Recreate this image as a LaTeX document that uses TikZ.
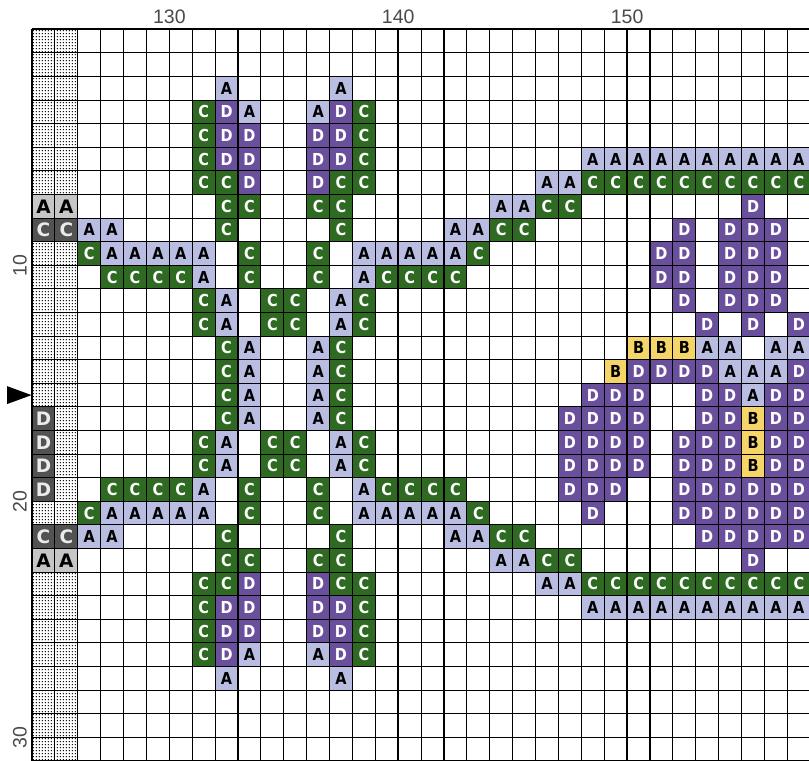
\documentclass[tikz,border=0pt]{standalone}
\usepackage{fontspec}
\setmainfont{Liberation Sans}
\newfontfamily\cellfont{DejaVu Sans}[FakeStretch=0.88]
\newfontfamily\grayfont{DejaVu Sans}
\usetikzlibrary{patterns}
\pgfdeclarepatternformonly{stipple}{\pgfpointorigin}{\pgfpoint{3.2bp}{3.2bp}}{\pgfpoint{3.2bp}{3.2bp}}{%
  \pgfpathcircle{\pgfpoint{1.6bp}{1.6bp}}{0.85bp}\pgfusepath{fill}}
\definecolor{colA}{HTML}{B9BDE2}
\definecolor{colB}{HTML}{F6D568}
\definecolor{colC}{HTML}{2E6A22}
\definecolor{colD}{HTML}{6A4F9C}
\definecolor{grayL}{HTML}{C6C6C6}
\definecolor{grayD}{HTML}{525252}
\definecolor{labelgray}{HTML}{4A4A4A}
\tikzset{
  cellbase/.style={minimum width=22.89bp, minimum height=23.6bp, inner sep=0pt, outer sep=0pt,
    font=\cellfont\fontsize{16.5bp}{17bp}\selectfont\bfseries},
  graybase/.style={cellbase, font=\grayfont\fontsize{18.5bp}{20bp}\selectfont\bfseries},
  cellA/.style={cellbase, fill=colA, text=black, node contents=A},
  cellB/.style={cellbase, fill=colB, text=black, node contents=B},
  cellC/.style={cellbase, fill=colC, text=white, node contents=C},
  cellD/.style={cellbase, fill=colD, text=white, node contents=D},
  cella/.style={graybase, fill=grayL, text=black, node contents=A},
  cellc/.style={graybase, fill=grayD, text=white!92!black, node contents=C},
  celld/.style={graybase, fill=grayD, text=white!92!black, node contents=D},
  thinline/.style={line width=1.1bp, draw=black},
  boldline/.style={line width=1.6bp, draw=black},
  axislabel/.style={font=\fontsize{19.5bp}{20bp}\selectfont, text=labelgray, inner sep=0pt},
}
\newcommand{\cellrow}[2]{%
  \foreach \xx/\ss in {#2} {%
    \node[name=n\xx x#1, at={(\xx+0.5,#1+0.5)}, cell\ss];%
  }%
}
\begin{document}
\begin{tikzpicture}[x=1bp,y=1bp]
\useasboundingbox (0,0) rectangle (809,-761);
\clip (0,0) rectangle (809,-761);
\fill[white] (0,0) rectangle (809,-761);
\begin{scope}[shift={(32bp,-29.3bp)}, x=22.89bp, y=-23.6bp]
  \fill[pattern=stipple, pattern color=black] (0,0) rectangle (2,31);
  \cellrow{2}{8/A,13/A}
  \cellrow{3}{7/C,8/D,9/A,12/A,13/D,14/C}
  \cellrow{4}{7/C,8/D,9/D,12/D,13/D,14/C}
  \cellrow{5}{7/C,8/D,9/D,12/D,13/D,14/C,24/A,25/A,26/A,27/A,28/A,29/A,30/A,31/A,32/A,33/A}
  \cellrow{6}{7/C,8/C,9/D,12/D,13/C,14/C,22/A,23/A,24/C,25/C,26/C,27/C,28/C,29/C,30/C,31/C,32/C,33/C}
  \cellrow{7}{0/a,1/a,8/C,9/C,12/C,13/C,20/A,21/A,22/C,23/C,31/D}
  \cellrow{8}{0/c,1/c,2/A,3/A,8/C,13/C,18/A,19/A,20/C,21/C,28/D,30/D,31/D,32/D}
  \cellrow{9}{2/C,3/A,4/A,5/A,6/A,7/A,9/C,12/C,14/A,15/A,16/A,17/A,18/A,19/C,27/D,28/D,30/D,31/D,32/D}
  \cellrow{10}{3/C,4/C,5/C,6/C,7/A,9/C,12/C,14/A,15/C,16/C,17/C,18/C,27/D,28/D,30/D,31/D,32/D}
  \cellrow{11}{7/C,8/A,10/C,11/C,13/A,14/C,28/D,30/D,31/D,32/D}
  \cellrow{12}{7/C,8/A,10/C,11/C,13/A,14/C,29/D,31/D,33/D}
  \cellrow{13}{8/C,9/A,12/A,13/C,26/B,27/B,28/B,29/A,30/A,32/A,33/A}
  \cellrow{14}{8/C,9/A,12/A,13/C,25/B,26/D,27/D,28/D,29/D,30/A,31/A,32/A,33/D}
  \cellrow{15}{8/C,9/A,12/A,13/C,24/D,25/D,26/D,29/D,30/D,31/A,32/D,33/D}
  \cellrow{16}{0/d,8/C,9/A,12/A,13/C,23/D,24/D,25/D,26/D,29/D,30/D,31/B,32/D,33/D}
  \cellrow{17}{0/d,7/C,8/A,10/C,11/C,13/A,14/C,23/D,24/D,25/D,26/D,28/D,29/D,30/D,31/B,32/D,33/D}
  \cellrow{18}{0/d,7/C,8/A,10/C,11/C,13/A,14/C,23/D,24/D,25/D,26/D,28/D,29/D,30/D,31/B,32/D,33/D}
  \cellrow{19}{0/d,3/C,4/C,5/C,6/C,7/A,9/C,12/C,14/A,15/C,16/C,17/C,18/C,23/D,24/D,25/D,28/D,29/D,30/D,31/D,32/D,33/D}
  \cellrow{20}{2/C,3/A,4/A,5/A,6/A,7/A,9/C,12/C,14/A,15/A,16/A,17/A,18/A,19/C,24/D,28/D,29/D,30/D,31/D,32/D,33/D}
  \cellrow{21}{0/c,1/c,2/A,3/A,8/C,13/C,18/A,19/A,20/C,21/C,29/D,30/D,31/D,32/D,33/D}
  \cellrow{22}{0/a,1/a,8/C,9/C,12/C,13/C,20/A,21/A,22/C,23/C,31/D}
  \cellrow{23}{7/C,8/C,9/D,12/D,13/C,14/C,22/A,23/A,24/C,25/C,26/C,27/C,28/C,29/C,30/C,31/C,32/C,33/C}
  \cellrow{24}{7/C,8/D,9/D,12/D,13/D,14/C,24/A,25/A,26/A,27/A,28/A,29/A,30/A,31/A,32/A,33/A}
  \cellrow{25}{7/C,8/D,9/D,12/D,13/D,14/C}
  \cellrow{26}{7/C,8/D,9/A,12/A,13/D,14/C}
  \cellrow{27}{8/A,13/A}
  \foreach \i in {0,...,34} { \draw[thinline] (\i,0) -- (\i,31.2); }
  \foreach \j in {0,...,31} { \draw[thinline] (0,\j) -- (34.2,\j); }
  \foreach \i in {0,6,16,26} { \draw[boldline] (\i,0) -- (\i,31.2); }
  \foreach \j in {0,10,20,30} { \draw[boldline] (0,\j) -- (34.2,\j); }
  \node[axislabel] (lab130) at (6,-0.52) {130};
  \node[axislabel] (lab140) at (16,-0.52) {140};
  \node[axislabel] (lab150) at (26,-0.52) {150};
  \node[axislabel, rotate=90] (lab10) at (-0.53,10) {10};
  \node[axislabel, rotate=90] (lab20) at (-0.53,20) {20};
  \node[axislabel, rotate=90] (lab30) at (-0.53,30) {30};
  \fill[black] (-1.09,15.12) -- (-0.02,15.5) -- (-1.09,15.88) -- cycle;
\end{scope}
\end{tikzpicture}
\end{document}
